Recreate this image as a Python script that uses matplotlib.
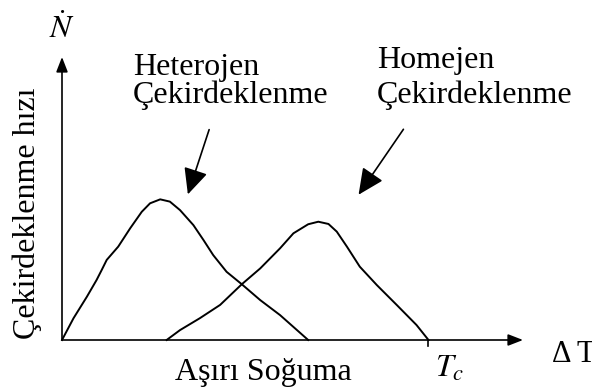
import matplotlib.pyplot as plt
from matplotlib.patches import FancyArrowPatch

plt.rcParams['font.family'] = ['Liberation Serif', 'DejaVu Serif']
plt.rcParams['mathtext.fontset'] = 'stix'

# Heterojen çekirdeklenme eğrisi (aşırı soğuma, hız) - resimden okunan noktalar
het_x = [0.0, 0.25, 0.54, 0.75, 0.86, 0.97, 1.22, 1.48, 1.73, 1.91, 2.13, 2.34, 2.56,
         2.85, 3.07, 3.28, 3.57, 3.90, 4.30, 4.73, 5.34]
het_y = [0.0, 0.77, 1.53, 2.12, 2.47, 2.83, 3.30, 3.95, 4.53, 4.83, 4.97, 4.89, 4.59,
         4.06, 3.53, 3.00, 2.41, 1.97, 1.41, 0.88, 0.0]

# Homojen çekirdeklenme eğrisi
hom_x = [2.27, 2.56, 2.99, 3.43, 3.90, 4.30, 4.73, 5.02, 5.34, 5.56, 5.78, 5.96, 6.18,
         6.46, 6.83, 7.26, 7.69, 7.95]
hom_y = [0.0, 0.35, 0.77, 1.24, 1.97, 2.53, 3.24, 3.77, 4.09, 4.18, 4.10, 3.83, 3.30,
         2.59, 1.94, 1.24, 0.53, 0.0]

tc = 7.95
W, H = 592, 390


def fx(px):
    return px / W


def fy(py):
    return 1 - py / H


fig = plt.figure(figsize=(5.92, 3.9), dpi=100)
ax = fig.add_axes([62 / W, 50 / H, 461 / W, 283 / H])
ax.set_xlim(0, 10)
ax.set_ylim(0, 10)
ax.axis('off')

# eksenler
axis_arrow = dict(arrowstyle='-|>,head_length=0.9,head_width=0.35', color='black', lw=1.2,
                  shrinkA=0, shrinkB=0)
ax.annotate('', xy=(0, 10), xytext=(0, 0), arrowprops=axis_arrow, annotation_clip=False)
ax.annotate('', xy=(10, 0), xytext=(0, 0), arrowprops=axis_arrow, annotation_clip=False)
ax.plot([tc, tc], [0, -0.22], color='black', lw=1.2, clip_on=False)

# eğriler
ax.plot(het_x, het_y, color='black', lw=1.4, clip_on=False, solid_joinstyle='round')
ax.plot(hom_x, hom_y, color='black', lw=1.4, clip_on=False, solid_joinstyle='round')

fs = 23
# va='baseline' -> son satırın taban çizgisi
fig.text(fx(133), fy(103), 'Heterojen\nÇekirdeklenme', fontsize=fs, va='baseline',
         linespacing=0.94)
fig.text(fx(377), fy(103), 'Homejen\nÇekirdeklenme', fontsize=fs, va='baseline',
         linespacing=1.24)

fig.text(fx(27), fy(213), 'Çekirdeklenme hızı', fontsize=fs, rotation=90,
         ha='center', va='center')
fig.text(fx(175), fy(380), 'Aşırı Soğuma', fontsize=fs, va='baseline')
fig.text(fx(435), fy(377), r'$T_c$', fontsize=fs, va='baseline')
fig.text(fx(552), fy(362), 'Δ T', fontsize=fs - 1, va='baseline')
fig.text(fx(62), fy(38), r'$\dot{N}$', fontsize=fs, ha='center', va='baseline')

# açıklama okları
for start, end in [((210, 127), (187, 197)), ((405, 127), (357, 197))]:
    fig.patches.append(FancyArrowPatch(
        (fx(start[0]), fy(start[1])), (fx(end[0]), fy(end[1])),
        transform=fig.transFigure, mutation_scale=10,
        arrowstyle='-|>,head_length=1.6,head_width=0.75', color='black', lw=1.2))

fig.savefig('out.png', dpi=100)
